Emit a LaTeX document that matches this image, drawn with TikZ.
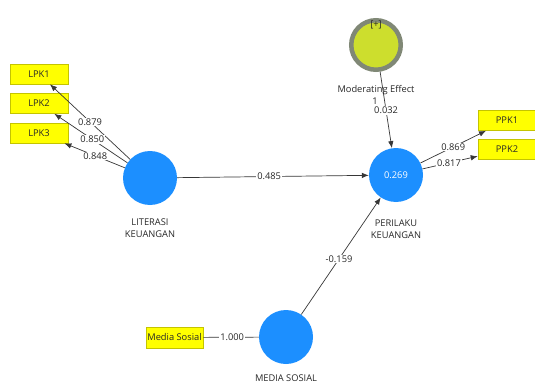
\documentclass[tikz,border=0pt]{standalone}
\usepackage{fontspec}
\setmainfont{Open Sans}
\usetikzlibrary{arrows.meta}
\definecolor{plsblue}{RGB}{28,143,255}
\definecolor{modfill}{RGB}{205,222,45}
\definecolor{modborder}{RGB}{128,136,118}
\definecolor{indfill}{RGB}{255,255,0}
\definecolor{indborder}{RGB}{196,196,0}
\definecolor{txt}{RGB}{40,40,40}
\definecolor{edge}{RGB}{55,55,55}
\begin{document}
\begin{tikzpicture}[x=1pt,y=-1pt,
  every node/.style={font=\fontsize{9.3}{12}\selectfont, text=txt},
  lv/.style={circle, fill=plsblue, minimum size=54pt, inner sep=0pt},
  modlv/.style={circle, fill=modfill, draw=modborder, line width=4.5pt, minimum size=49.5pt, inner sep=0pt},
  ind/.style={rectangle, fill=indfill, draw=indborder, line width=0.6pt, minimum width=58pt, minimum height=20pt, inner sep=0pt},
  arr/.style={draw=edge, line width=0.7pt, -{Latex[length=7pt,width=5.5pt]}},
  plainline/.style={draw=edge, line width=0.7pt},
  lab/.style={fill=white, inner sep=0.8pt},
  captxt/.style={align=center, inner sep=0pt}]
\clip (0,0) rectangle (535,385);
\fill[white] (0,0) rectangle (535,385);
% indicators
\node[ind] (lpk1) at (39,74) {LPK1};
\node[ind] (lpk2) at (39,103.5) {LPK2};
\node[ind] (lpk3) at (39,133) {LPK3};
\node[ind] (ppk1) at (507,120.5) {PPK1};
\node[ind] (ppk2) at (507,149.5) {PPK2};
\node[ind, minimum width=57pt, minimum height=21pt] (msbox) at (174.5,337.5) {Media Sosial};
% latent variables
\node[lv] (lit) at (150,178) {};
\node[lv, text=white] (per) at (396,175) {0.269};
\node[lv] (ms) at (286,337) {};
\node[modlv] (mod) at (376,45) {};
\node[captxt] (modplus) at (376,25) {[+]};
% captions
\node[captxt] (litcap) at (150,228) {LITERASI\\KEUANGAN};
\node[captxt] (percap) at (396,229) {PERILAKU\\KEUANGAN};
\node[captxt] (mscap) at (286,378) {MEDIA SOSIAL};
% connectors
\draw[arr] (lit) -- node[lab, pos=0.5] {0.879} (lpk1);
\draw[arr] (lit) -- node[lab, pos=0.48] {0.850} (lpk2);
\draw[arr] (lit) -- node[lab, pos=0.49] {0.848} (lpk3);
\draw[arr] (lit) -- node[lab, pos=0.48] {0.485} (per);
\draw[arr] (mod) -- node[lab, pos=0.51] {0.032} (per);
\draw[arr] (per) -- node[lab, pos=0.5] {0.869} (ppk1);
\draw[arr] (per) -- node[lab, pos=0.48] {0.817} (ppk2);
\draw[arr] (ms) -- node[lab, pos=0.475] {-0.159} (per);
\draw[plainline] (msbox) -- node[lab, pos=0.52] {1.000} (ms);
% moderating captions
\node[captxt] (modcap) at (376,90) {Moderating Effect};
\node[captxt] (modone) at (375,101) {1};
\end{tikzpicture}
\end{document}
